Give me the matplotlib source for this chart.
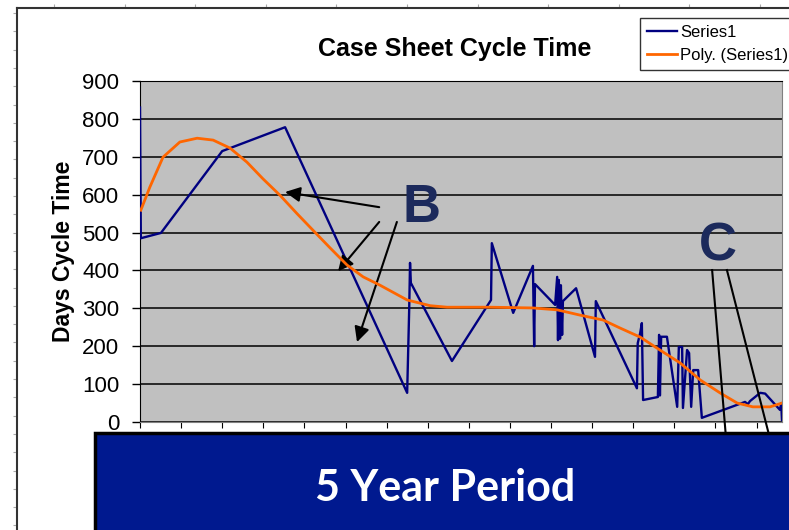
import numpy as np
import matplotlib
matplotlib.use('Agg')
import matplotlib.pyplot as plt
from matplotlib.patches import Rectangle

# Case sheet cycle time (days) over the 5 year period, x in axis-tick units
period = [0.00, 0.02, 0.51, 2.00, 3.53, 6.50, 6.55, 6.57, 6.59, 7.59,
          8.54, 8.56, 9.08, 9.56, 9.59, 9.61, 10.10, 10.15, 10.17, 10.19,
          10.22, 10.24, 10.27, 10.29, 10.61, 11.07, 11.09, 12.09, 12.11, 12.17,
          12.21, 12.24, 12.60, 12.63, 12.65, 12.68, 12.82, 13.07, 13.11, 13.19,
          13.21, 13.31, 13.36, 13.41, 13.46, 13.58, 13.67, 14.72, 14.79, 14.84,
          15.09, 15.21, 15.57, 15.60, 15.62]
days = [830, 485, 499, 715, 778, 77, 300, 420, 367, 161,
        322, 472, 288, 412, 200, 364, 309, 383, 216, 375,
        220, 361, 230, 319, 353, 172, 319, 89, 208, 235,
        261, 58, 66, 230, 70, 225, 225, 40, 198, 198,
        37, 190, 182, 40, 137, 137, 11, 53, 47, 55,
        77, 75, 32, 50, 5]

# polynomial trendline
trend_x = [0.02, 0.24, 0.56, 0.97, 1.39, 1.78, 2.19, 2.60, 2.99, 3.41,
           3.82, 4.21, 4.62, 5.04, 5.43, 5.84, 6.50, 7.06, 7.47, 8.52,
           9.56, 10.15, 10.71, 11.27, 11.68, 12.17, 12.65, 13.14, 13.63, 14.11,
           14.53, 14.91, 15.33, 15.62]
trend_y = [559, 620, 699, 739, 749, 744, 723, 686, 642, 598,
           550, 506, 460, 414, 383, 361, 322, 307, 303, 303,
           301, 296, 282, 269, 248, 224, 190, 156, 111, 77,
           50, 40, 40, 50]

y_ticks = [0, 100, 200, 300, 400, 500, 600, 700, 800, 900]

W, H = 789, 530
fig = plt.figure(figsize=(W / 100, H / 100), dpi=100)
fig.patch.set_facecolor('white')

# background frame (ruler-like border behind the chart)
bg = fig.add_axes([17 / W, 0, 1 - 17 / W, 1 - 8 / H])
bg.set_xlim(0, W - 17)
bg.set_ylim(H - 8, 0)
bg.set_facecolor('none')
for s in ['right', 'bottom']:
    bg.spines[s].set_visible(False)
for s in ['left', 'top']:
    bg.spines[s].set_color('#333333')
    bg.spines[s].set_linewidth(1.5)
bg.xaxis.tick_top()
bg.set_xticks(np.arange(37, W - 17, 70.6))
bg.set_yticks(np.arange(5, H - 8, 18.3))
bg.tick_params(direction='out', length=3, color='#aaaaaa', labelleft=False, labeltop=False)

ax = fig.add_axes([140 / W, 108 / H, 642 / W, 341 / H])
ax.set_facecolor('#C0C0C0')
ax.plot(period, days, color='#000080', lw=1.7, label='Series1', zorder=3)
ax.plot(trend_x, trend_y, color='#FF6600', lw=2.0, label='Poly. (Series1)', zorder=4)

ax.set_xlim(0, 15.62)
ax.set_ylim(0, 900)
ax.set_yticks(y_ticks)
ax.set_xticks(np.arange(0, 16, 1))
ax.tick_params(axis='x', direction='out', length=4, labelbottom=False, color='black')
ax.tick_params(axis='y', direction='out', length=6, width=1, pad=9, labelsize=16)
for lab in ax.get_yticklabels():
    lab.set_fontfamily('Liberation Sans')
ax.yaxis.grid(True, color='black', lw=1.1)
ax.set_axisbelow(True)
ax.spines['left'].set_color('black')
ax.spines['bottom'].set_color('#808080')
ax.spines['right'].set_color('#808080')
ax.spines['top'].set_color('black')

ax.set_ylabel('Days Cycle Time', fontsize=16.5, fontweight='bold', family='Liberation Sans', labelpad=5)
fig.text(455 / W, 1 - 49 / H, 'Case Sheet Cycle Time', ha='center', va='center',
         fontsize=18, fontweight='bold', family='Liberation Sans')

leg = ax.legend(loc='upper left', bbox_to_anchor=(640 / W, 1 - 18 / H),
                bbox_transform=fig.transFigure, frameon=True, fancybox=False,
                prop={'family': 'Liberation Sans', 'size': 12}, handlelength=1.8,
                handletextpad=0.2, labelspacing=0.5, borderpad=0.4, borderaxespad=0)
leg.get_frame().set_edgecolor('black')
leg.get_frame().set_linewidth(1)
leg.set_zorder(10)

# annotations
letter_color = '#1C2A5C'
ax.text(6.86, 565, 'B', fontsize=38, fontweight='bold', color=letter_color,
        family='Liberation Sans', ha='center', va='center')
ax.text(14.06, 464, 'C', fontsize=38, fontweight='bold', color=letter_color,
        family='Liberation Sans', ha='center', va='center')

arrow_kw = dict(arrowstyle='-|>,head_length=0.9,head_width=0.45', color='black', lw=1.5,
                shrinkA=0, shrinkB=0)
ax.annotate('', xy=(3.53, 607), xytext=(5.82, 567), arrowprops=arrow_kw)
ax.annotate('', xy=(4.82, 398), xytext=(5.82, 528), arrowprops=arrow_kw)
ax.annotate('', xy=(5.28, 211), xytext=(6.25, 528), arrowprops=arrow_kw)
ax.plot([13.92, 14.26], [401, -45], color='black', lw=1.5, clip_on=False, zorder=6)
ax.plot([14.28, 15.33], [401, -45], color='black', lw=1.5, clip_on=False, zorder=6)

# banner
banner = Rectangle((95 / W, -0.02), 1.0, (H - 433) / H + 0.02, transform=fig.transFigure,
                   facecolor='#00198F', edgecolor='black', lw=2.5, zorder=20)
fig.add_artist(banner)
fig.text(445 / W, 1 - 488 / H, '5 Year Period', ha='center', va='center', color='white',
         fontsize=31, fontweight='bold', family='Lato', zorder=21)

fig.savefig('out.png', dpi=100)
